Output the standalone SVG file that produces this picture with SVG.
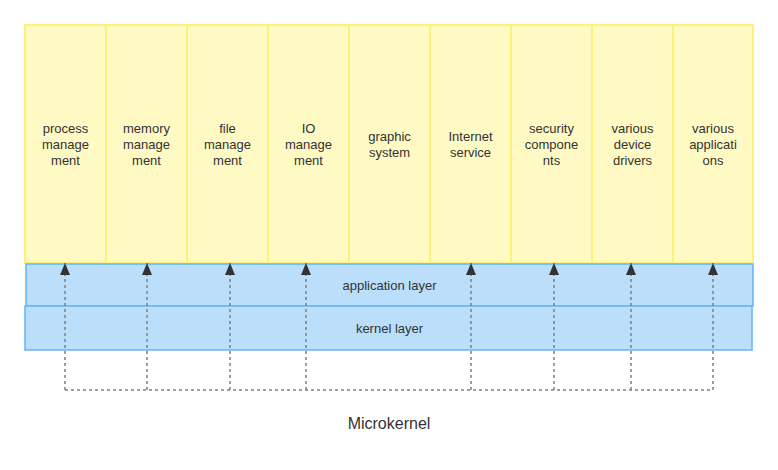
<svg xmlns="http://www.w3.org/2000/svg" width="778" height="470" viewBox="0 0 778 470">
<defs>
<style>
.y{fill:#fff9c4;stroke:#fff176;stroke-width:2}
.b{fill:#bbdefb;stroke:#64b5f6;stroke-width:1.5}
.t{font-family:"Liberation Sans",Arial,sans-serif;font-size:13px;fill:#333;text-anchor:middle}
.c{fill:none;stroke:#808080;stroke-width:1.5;stroke-dasharray:3 3}
</style>
<marker id="ah" markerWidth="12" markerHeight="10" refX="12" refY="5" orient="auto" markerUnits="userSpaceOnUse" viewBox="0 0 12 10">
<path d="M0,0 L12,5 L0,10 Z" fill="#333"/>
</marker>
</defs>
<rect width="778" height="470" fill="#fff"/>
<g id="n1"><rect class="y" x="25" y="25" width="81" height="238"/><text class="t" x="65.5" y="133">process<tspan x="65.5" dy="16">manage</tspan><tspan x="65.5" dy="16">ment</tspan></text></g>
<g id="n2"><rect class="y" x="106" y="25" width="81" height="238"/><text class="t" x="146.5" y="133">memory<tspan x="146.5" dy="16">manage</tspan><tspan x="146.5" dy="16">ment</tspan></text></g>
<g id="n3"><rect class="y" x="187" y="25" width="81" height="238"/><text class="t" x="227.5" y="133">file<tspan x="227.5" dy="16">manage</tspan><tspan x="227.5" dy="16">ment</tspan></text></g>
<g id="n4"><rect class="y" x="268" y="25" width="81" height="238"/><text class="t" x="308.5" y="133">IO<tspan x="308.5" dy="16">manage</tspan><tspan x="308.5" dy="16">ment</tspan></text></g>
<g id="n5"><rect class="y" x="349" y="25" width="81" height="238"/><text class="t" x="389.5" y="141">graphic<tspan x="389.5" dy="16">system</tspan></text></g>
<g id="n6"><rect class="y" x="430" y="25" width="81" height="238"/><text class="t" x="470.5" y="141">Internet<tspan x="470.5" dy="16">service</tspan></text></g>
<g id="n7"><rect class="y" x="511" y="25" width="81" height="238"/><text class="t" x="551.5" y="133">security<tspan x="551.5" dy="16">compone</tspan><tspan x="551.5" dy="16">nts</tspan></text></g>
<g id="n8"><rect class="y" x="592" y="25" width="81" height="238"/><text class="t" x="632.5" y="133">various<tspan x="632.5" dy="16">device</tspan><tspan x="632.5" dy="16">drivers</tspan></text></g>
<g id="n9"><rect class="y" x="673" y="25" width="80" height="238"/><text class="t" x="713" y="133">various<tspan x="713" dy="16">applicati</tspan><tspan x="713" dy="16">ons</tspan></text></g>
<g id="app"><rect class="b" x="26" y="264" width="727" height="42"/><text class="t" x="389.5" y="290">application layer</text></g>
<g id="kernel"><rect class="b" x="25" y="306" width="727" height="44"/><text class="t" x="389.5" y="333">kernel layer</text></g>
<g id="connectors">
<path class="c" d="M65,390 H713"/>
<path class="c" d="M65,390 V263" marker-end="url(#ah)"/>
<path class="c" d="M147,390 V263" marker-end="url(#ah)"/>
<path class="c" d="M230,390 V263" marker-end="url(#ah)"/>
<path class="c" d="M306,390 V263" marker-end="url(#ah)"/>
<path class="c" d="M471,390 V263" marker-end="url(#ah)"/>
<path class="c" d="M554,390 V263" marker-end="url(#ah)"/>
<path class="c" d="M631,390 V263" marker-end="url(#ah)"/>
<path class="c" d="M713,390 V263" marker-end="url(#ah)"/>
</g>
<text id="title" x="389" y="429" font-family="'Liberation Sans',Arial,sans-serif" font-size="16" fill="#333" text-anchor="middle">Microkernel</text>
</svg>
